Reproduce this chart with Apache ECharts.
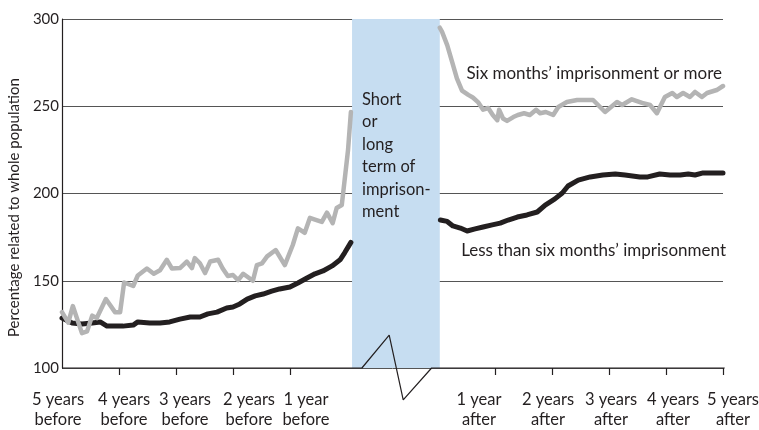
<!DOCTYPE html>
<html>
<head>
<meta charset="utf-8">
<script src="https://cdn.jsdelivr.net/npm/echarts@6/dist/echarts.min.js"></script>
<style>
  html, body { margin: 0; padding: 0; background: #fff; }
  #chart { width: 759px; height: 430px; }
</style>
</head>
<body>
<div id="chart"></div>
<script>
// years relative to start of imprisonment (before) / release (after), value in %
var grayBefore = [
  [-5.00, 132], [-4.89, 126], [-4.81, 135.5], [-4.65, 120], [-4.56, 121], [-4.47, 130],
  [-4.39, 128.6], [-4.23, 139.5], [-4.07, 132], [-3.98, 132], [-3.91, 149], [-3.75, 147],
  [-3.67, 153], [-3.51, 157], [-3.39, 154], [-3.28, 156], [-3.16, 162], [-3.07, 157],
  [-2.93, 157.3], [-2.81, 161], [-2.72, 157.3], [-2.67, 163], [-2.58, 160], [-2.49, 154.4],
  [-2.40, 161], [-2.26, 162], [-2.18, 157], [-2.09, 152.7], [-2.00, 153.3], [-1.91, 150.4],
  [-1.82, 154], [-1.65, 150], [-1.58, 159], [-1.49, 160], [-1.40, 164], [-1.25, 167.6],
  [-1.09, 159], [-0.95, 170.5], [-0.86, 180], [-0.74, 177.5], [-0.65, 186], [-0.56, 185],
  [-0.44, 183.7], [-0.35, 189], [-0.25, 183], [-0.18, 191.7], [-0.09, 193.4], [-0.04, 207.7],
  [0.02, 225], [0.07, 246.7]
];
var grayAfter = [
  [0.03, 295], [0.07, 292.6], [0.16, 285], [0.25, 275], [0.33, 266], [0.42, 259], [0.53, 256.5],
  [0.61, 255], [0.70, 252.4], [0.79, 248], [0.88, 249], [0.96, 245], [1.04, 242], [1.07, 248],
  [1.14, 243], [1.21, 241.6], [1.32, 243.8], [1.40, 245], [1.51, 246], [1.61, 245], [1.72, 248],
  [1.79, 246], [1.89, 246.7], [2.02, 245], [2.11, 249.6], [2.26, 252.4], [2.44, 253.6],
  [2.72, 253.6], [2.93, 246.7], [3.14, 252.4], [3.23, 250.7], [3.40, 254], [3.58, 251.9],
  [3.72, 250.7], [3.84, 246], [3.98, 255.3], [4.11, 257.6], [4.19, 255.3], [4.30, 257.6],
  [4.42, 255.3], [4.51, 258.2], [4.63, 255.3], [4.72, 257.6], [4.89, 259.3], [5.00, 261.6]
];
var blackBefore = [
  [-5.00, 128.6], [-4.82, 125.8], [-4.65, 125.2], [-4.47, 125.8], [-4.33, 126.4], [-4.21, 124],
  [-4.07, 124], [-3.93, 124], [-3.75, 124.6], [-3.67, 126.4], [-3.46, 125.8], [-3.28, 125.8],
  [-3.11, 126.4], [-2.93, 128], [-2.75, 129.2], [-2.58, 129.2], [-2.44, 131], [-2.28, 132],
  [-2.11, 134.4], [-2.00, 135], [-1.88, 136.7], [-1.75, 139.5], [-1.61, 141.3], [-1.47, 142.4],
  [-1.32, 144], [-1.18, 145.3], [-1.00, 146.4], [-0.86, 148.7], [-0.70, 151.6], [-0.56, 154],
  [-0.42, 155.6], [-0.26, 158.5], [-0.12, 162], [-0.04, 166], [0.07, 172]
];
var blackAfter = [
  [0.04, 184.8], [0.16, 184], [0.26, 181.4], [0.39, 180.2], [0.51, 178.5], [0.65, 179.7],
  [0.79, 180.8], [0.95, 182], [1.09, 183], [1.23, 184.8], [1.39, 186.5], [1.56, 187.7],
  [1.74, 189.4], [1.88, 193.4], [2.05, 196.9], [2.18, 200.3], [2.28, 204.3], [2.46, 207.7],
  [2.67, 209.5], [2.89, 210.6], [3.11, 211.2], [3.28, 210.6], [3.54, 209.5], [3.68, 209.5],
  [3.89, 211.2], [4.07, 210.6], [4.25, 210.6], [4.39, 211.2], [4.51, 210.6], [4.65, 211.8],
  [4.82, 211.8], [5.00, 211.8]
];
var tickYears = [-4, -3, -2, -1, 1, 2, 3, 4, 5];
var labelYears = [-5, -4, -3, -2, -1, 1, 2, 3, 4, 5];
var labelTexts = [
  "5 years\nbefore", "4 years\nbefore", "3 years\nbefore", "2 years\nbefore", "1 year\nbefore",
  "1 year\nafter", "2 years\nafter", "3 years\nafter", "4 years\nafter", "5 years\nafter"
];
var labelShift = [-4, 5, 9, 16, 16, -16, -4, 2, 7, 10]; // px, hand placement in the original
var grayName = "Six months’ imprisonment or more";
var blackName = "Less than six months’ imprisonment";
var prisonText = "Short\nor\nlong\nterm of\nimprison-\nment";

// axis layout: 0..5 = five years before, then a gap for the prison period
var GAP = 1.6;
var XMAX = 11.6;
var W = 759, GL = 62, GR = 36;
var PX = (W - GL - GR) / XMAX; // px per year
function r3(v) { return Math.round(v * 1000) / 1000; }
function posBefore(y) { return r3(5 + y); }
function posAfter(y) { return r3(5 + GAP + y); }
function toAxis(arrB, arrA) {
  var d = arrB.map(function (p) { return [posBefore(p[0]), p[1]]; });
  d.push([null, null]);
  return d.concat(arrA.map(function (p) { return [posAfter(p[0]), p[1]]; }));
}
function yearPos(y) { return y < 0 ? posBefore(y) : posAfter(y); }

var FONT = "Lato";
var TXT = "#231f20";

var labelPos = labelYears.map(function (y, i) { return r3(yearPos(y) + labelShift[i] / PX); });

// axis line with the break drawn across the prison period
var axisBreak = [[0, 100], [5.263, 100], [5.742, 118.9], [5.988, 81.7], [6.486, 100], [11.63, 100]];

var chart = echarts.init(document.getElementById("chart"));
chart.setOption({
  animation: false,
  grid: [
    { left: GL, right: GR, top: 19, bottom: 62, outerBoundsMode: "none" },
    // full-width twin grid, same scale, only to carry the x labels
    { left: 0, right: 0, top: 19, bottom: 62, outerBoundsMode: "none" }
  ],
  xAxis: [
    {
      type: "value", min: 0, max: XMAX,
      splitLine: { show: false },
      axisLine: { show: false },
      axisTick: {
        show: true, length: 7,
        customValues: tickYears.map(yearPos),
        lineStyle: { color: TXT, width: 1.2 }
      },
      axisLabel: { show: false }
    },
    {
      type: "value", gridIndex: 1, min: r3(-GL / PX), max: r3((W - GL) / PX),
      splitLine: { show: false },
      axisLine: { show: false },
      axisTick: { show: false },
      axisLabel: {
        customValues: labelPos,
        margin: 22,
        fontFamily: FONT, fontSize: 16.5, lineHeight: 20, color: TXT,
        formatter: function (v) {
          for (var i = 0; i < labelPos.length; i++) {
            if (Math.abs(labelPos[i] - v) < 1e-6) return labelTexts[i];
          }
          return "";
        }
      }
    }
  ],
  yAxis: [
    {
      type: "value", min: 100, max: 300, interval: 50,
      name: "Percentage related to whole population",
      nameLocation: "middle", nameGap: 39,
      nameTextStyle: { fontFamily: FONT, fontSize: 15, color: TXT, padding: [0, 28, 0, 0] },
      axisLine: { show: true, lineStyle: { color: TXT, width: 1.2 } },
      axisTick: { show: false },
      axisLabel: { margin: 3, fontFamily: FONT, fontSize: 15, color: TXT },
      splitLine: { show: true, lineStyle: { color: "#555", width: 1 } }
    },
    { type: "value", gridIndex: 1, min: 100, max: 300, show: false }
  ],
  series: [
    {
      type: "line", data: axisBreak, symbol: "none", silent: true, clip: false,
      lineStyle: { color: TXT, width: 1.2 }, z: 5
    },
    {
      type: "line", name: blackName, data: toAxis(blackBefore, blackAfter),
      symbol: "none", connectNulls: false,
      lineStyle: { color: "#231f20", width: 5, join: "round", cap: "round" }, z: 3,
      markArea: {
        silent: true,
        itemStyle: { color: "#c6ddf1" },
        label: {
          show: true, position: "insideTopLeft", distance: 0, offset: [10, 69],
          formatter: prisonText, fontFamily: FONT, fontSize: 16.5, lineHeight: 22.5, color: TXT
        },
        data: [[{ xAxis: 5.09, yAxis: 300 }, { xAxis: 6.63, yAxis: 100 }]]
      },
      markPoint: {
        symbol: "circle", symbolSize: 0, silent: true,
        label: { show: true, position: "left", distance: -3, formatter: blackName, fontFamily: FONT, fontSize: 17, color: TXT },
        data: [{ coord: [XMAX, 167.2] }]
      }
    },
    {
      type: "line", name: grayName, data: toAxis(grayBefore, grayAfter),
      symbol: "none", connectNulls: false,
      lineStyle: { color: "#b4b4b4", width: 4.5, join: "round", cap: "round" }, z: 4,
      markPoint: {
        symbol: "circle", symbolSize: 0, silent: true,
        label: { show: true, position: "left", distance: 1, formatter: grayName, fontFamily: FONT, fontSize: 17, color: TXT },
        data: [{ coord: [XMAX, 268.8] }]
      }
    }
  ]
});
</script>
</body>
</html>
